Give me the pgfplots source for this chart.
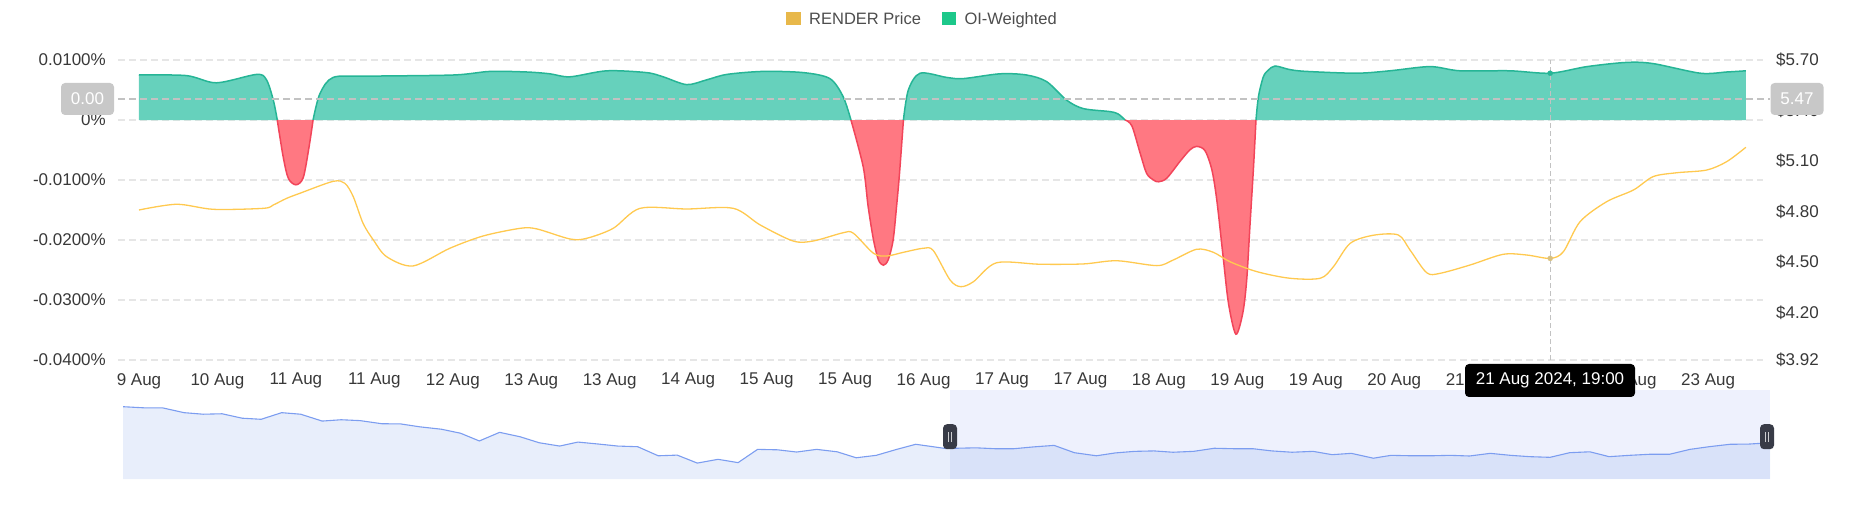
\documentclass[border=0pt]{standalone}
\usepackage{fontspec}
\setmainfont{Liberation Sans}
\usepackage{pgfplots}
\pgfplotsset{compat=1.18}
\usepackage{pgfplotstable}

\definecolor{oifill}{HTML}{66D1BC}
\definecolor{oiline}{HTML}{26B596}
\definecolor{negfill}{HTML}{FF7882}
\definecolor{negline}{HTML}{F2455A}
\definecolor{priceline}{HTML}{FFC94F}
\definecolor{gridc}{HTML}{E6E6E6}
\definecolor{ticktext}{HTML}{383838}
\definecolor{legtext}{HTML}{4D4D4D}
\definecolor{navline}{HTML}{7C9DF0}
\definecolor{navfill}{HTML}{E8EEFB}
\definecolor{navsel}{HTML}{7896F0}
\definecolor{handlec}{HTML}{383B47}
\definecolor{boxgray}{HTML}{C8C8C8}
\definecolor{crossc}{HTML}{C2C2C2}
\definecolor{leggold}{HTML}{E8B84A}
\definecolor{leggreen}{HTML}{1DC88A}
\definecolor{pricedot}{HTML}{D8C080}

% OI-Weighted funding rate (%), hours since 9 Aug 00:00
\pgfplotstableread{
h v
16.0 0.0075
25.7 0.0074
31.8 0.0062
40.0 0.0076
42.0 0.0067
43.4 0.0033
44.2 0
}\gA
\pgfplotstableread{
h v
44.2 0
45.4 -0.0061
46.45 -0.0097
48.0 -0.0108
49.5 -0.0096
50.7 -0.0044
51.5 0
}\rA
\pgfplotstableread{
h v
51.5 0
52.9 0.0044
55.6 0.0071
62.4 0.0073
80.1 0.0075
87.6 0.0081
95.1 0.0080
99.8 0.0077
103.9 0.0072
111.4 0.0082
119.5 0.0079
122.9 0.0072
127.7 0.0059
131.8 0.0067
135.9 0.0076
143.3 0.0081
151.5 0.0079
156.9 0.0069
159.6 0.0039
161.2 0
}\gB
\pgfplotstableread{
h v
161.2 0
163.7 -0.0078
164.7 -0.0144
165.8 -0.0200
166.8 -0.0233
167.8 -0.0242
168.8 -0.0233
169.8 -0.0200
170.5 -0.0144
171.1 -0.0089
171.9 0
}\rB
\pgfplotstableread{
h v
171.9 0
172.9 0.0050
175.3 0.0078
180.7 0.0071
184.1 0.0069
191.6 0.0077
197.0 0.0075
201.1 0.0064
205.2 0.0033
208.6 0.0019
214.0 0.0014
215.7 0.0010
217.1 0
}\gC
\pgfplotstableread{
h v
217.1 0
218.5 -0.0010
220.2 -0.0056
221.5 -0.0089
222.9 -0.0100
223.9 -0.0103
225.6 -0.0097
228.3 -0.0069
230.3 -0.0050
231.7 -0.0044
233.4 -0.0051
234.8 -0.0083
235.8 -0.0133
237.1 -0.0228
238.2 -0.0306
239.7 -0.0357
241.1 -0.0322
241.9 -0.0267
242.6 -0.0172
243.3 -0.0078
243.8 0
}\rC
\pgfplotstableread{
h v
243.8 0
244.3 0.0039
245.3 0.0072
246.3 0.0083
247.7 0.0090
250.7 0.0084
254.1 0.0081
264.3 0.0078
271.1 0.0082
279.3 0.0089
285.4 0.0082
295.6 0.0082
303.8 0.0078
311.3 0.0089
319.4 0.0096
324.8 0.0094
334.4 0.0078
339.8 0.0080
343.7 0.0082
}\gD

% RENDER price (USD)
\pgfplotstableread{
h p
16.0 4.810
23.7 4.844
31.2 4.814
41.4 4.820
43.4 4.840
46.1 4.879
48.8 4.909
55.6 4.980
58.0 4.968
59.7 4.889
61.7 4.731
63.8 4.632
66.5 4.533
71.9 4.478
79.4 4.583
86.2 4.656
93.7 4.701
97.1 4.698
103.9 4.638
107.3 4.642
112.7 4.701
118.2 4.820
127.7 4.816
137.2 4.820
142.7 4.721
149.4 4.626
153.5 4.626
159.6 4.675
161.7 4.672
165.8 4.553
168.5 4.537
171.9 4.559
176.0 4.583
178.0 4.569
181.4 4.395
183.6 4.355
186.2 4.385
190.9 4.497
199.8 4.488
208.6 4.490
215.4 4.509
223.6 4.480
226.9 4.513
231.7 4.577
235.1 4.559
238.5 4.503
244.0 4.444
250.7 4.405
256.9 4.405
259.6 4.474
263.0 4.612
267.7 4.660
272.8 4.662
275.2 4.573
278.6 4.438
281.3 4.434
287.5 4.484
294.2 4.547
299.0 4.543
303.8 4.523
306.5 4.563
309.9 4.741
315.3 4.859
320.8 4.929
324.8 5.008
329.6 5.031
335.7 5.047
339.8 5.097
343.7 5.182
}\price

% navigator price history
\pgfplotstableread{
h p
-314.5 6.81
-306.3 6.76
-298.8 6.76
-290.1 6.54
-282.5 6.47
-274.9 6.49
-266.9 6.29
-259.3 6.24
-251.1 6.54
-243.5 6.47
-234.9 6.16
-227.3 6.22
-219.7 6.18
-211.1 6.04
-203.5 6.03
-195.9 5.90
-187.2 5.79
-179.6 5.61
-172.1 5.26
-164.0 5.65
-155.8 5.45
-148.2 5.18
-140.0 5.03
-132.7 5.21
-124.4 5.12
-116.8 5.03
-108.8 5.00
-100.6 4.59
-93.0 4.62
-85.0 4.26
-76.7 4.43
-68.7 4.28
-60.9 4.88
-52.9 4.86
-45.3 4.76
-37.3 4.88
-29.1 4.77
-21.5 4.50
-13.5 4.61
-5.3 4.88
2.3 5.11
14.2 4.92
26.3 4.95
33.9 4.91
41.6 4.91
49.2 4.99
57.6 5.06
65.7 4.73
74.5 4.59
82.1 4.72
89.8 4.79
97.5 4.81
105.1 4.75
113.3 4.79
121.6 4.93
129.3 4.91
137.0 4.91
144.6 4.81
152.7 4.75
161.1 4.79
168.7 4.64
176.4 4.70
185.2 4.48
192.2 4.61
200.5 4.59
208.2 4.59
215.9 4.61
223.6 4.58
231.9 4.70
240.0 4.61
247.7 4.55
255.8 4.52
263.6 4.73
271.7 4.77
279.4 4.55
287.5 4.61
295.9 4.66
303.6 4.66
311.7 4.88
319.3 5.00
327.7 5.11
335.3 5.12
343.7 5.18
}\nav

\begin{document}
\begin{tikzpicture}
\path[use as bounding box] (0pt,0pt) rectangle (1852pt,525pt);

% ---------- main axis: OI-weighted funding rate ----------
\begin{axis}[
  at={(118pt,165pt)}, anchor=south west, scale only axis,
  width=1645pt, height=300pt,
  xmin=11.72, xmax=347.2, ymin=-0.04, ymax=0.01,
  clip=false,
  axis line style={draw=none}, major tick length=0pt,
  xtick={16,32,...,336},
  xticklabels={9 Aug,10 Aug,11 Aug,11 Aug,12 Aug,13 Aug,13 Aug,14 Aug,15 Aug,15 Aug,16 Aug,17 Aug,17 Aug,18 Aug,19 Aug,19 Aug,20 Aug,21 Aug,21 Aug,22 Aug,23 Aug},
  ytick={-0.04,-0.03,-0.02,-0.01,0,0.01},
  yticklabels={-0.0400\%,-0.0300\%,-0.0200\%,-0.0100\%,0\%,0.0100\%},
  scaled y ticks=false, scaled x ticks=false,
  ymajorgrids,
  major grid style={gridc, line width=1.2pt, dash pattern=on 7pt off 4pt},
  tick label style={font=\fontsize{17pt}{20pt}\selectfont, text=ticktext, inner sep=0pt},
  xticklabel style={anchor=north, yshift=-13pt},
  yticklabel style={anchor=east, xshift=-12pt},
  no markers,
]
\addplot[fill=oifill, draw=none, smooth] table[x=h,y=v]{\gA} \closedcycle;
\addplot[fill=oifill, draw=none, smooth] table[x=h,y=v]{\gB} \closedcycle;
\addplot[fill=oifill, draw=none, smooth] table[x=h,y=v]{\gC} \closedcycle;
\addplot[fill=oifill, draw=none, smooth] table[x=h,y=v]{\gD} \closedcycle;
\addplot[fill=negfill, draw=none, smooth] table[x=h,y=v]{\rA} \closedcycle;
\addplot[fill=negfill, draw=none, smooth] table[x=h,y=v]{\rB} \closedcycle;
\addplot[fill=negfill, draw=none, smooth] table[x=h,y=v]{\rC} \closedcycle;
\addplot[oiline, line width=1.5pt, smooth] table[x=h,y=v]{\gA};
\addplot[oiline, line width=1.5pt, smooth] table[x=h,y=v]{\gB};
\addplot[oiline, line width=1.5pt, smooth] table[x=h,y=v]{\gC};
\addplot[oiline, line width=1.5pt, smooth] table[x=h,y=v]{\gD};
\addplot[negline, line width=1.5pt, smooth] table[x=h,y=v]{\rA};
\addplot[negline, line width=1.5pt, smooth] table[x=h,y=v]{\rB};
\addplot[negline, line width=1.5pt, smooth] table[x=h,y=v]{\rC};
% crosshair
\draw[crossc, line width=1.5pt, dash pattern=on 7pt off 4pt] (axis cs:11.72,0.003533) -- (axis cs:348.6,0.003533);
\draw[crossc, line width=1pt, dash pattern=on 5pt off 3pt] (axis cs:303.8,-0.04) -- (axis cs:303.8,0.01);
\addplot[only marks, mark=*, mark size=2.5pt, mark options={fill=oiline, draw=oiline}] coordinates {(303.8,0.0078)};
\end{axis}

% ---------- right axis: RENDER price ----------
\begin{axis}[
  at={(118pt,165pt)}, anchor=south west, scale only axis,
  width=1645pt, height=300pt,
  xmin=11.72, xmax=347.2, ymin=3.92, ymax=5.70,
  axis line style={draw=none}, major tick length=0pt,
  xtick=\empty,
  yticklabel pos=right,
  ytick={3.92,4.20,4.50,4.80,5.10,5.40,5.70},
  yticklabels={\$3.92,\$4.20,\$4.50,\$4.80,\$5.10,\$5.40,\$5.70},
  tick label style={font=\fontsize{17pt}{20pt}\selectfont, text=ticktext, inner sep=0pt},
  yticklabel style={anchor=west, xshift=13pt},
  no markers,
]
\addplot[priceline, line width=1.3pt, smooth] table[x=h,y=p]{\price};
\addplot[only marks, mark=*, mark size=2.5pt, mark options={fill=pricedot, draw=pricedot}] coordinates {(303.8,4.523)};
\end{axis}

% ---------- navigator ----------
\begin{axis}[
  at={(123pt,46pt)}, anchor=south west, scale only axis,
  width=1647pt, height=89pt,
  xmin=-314.5, xmax=343.7, ymin=3.54, ymax=7.565,
  hide axis, no markers,
]
\addplot[fill=navfill, draw=none] table[x=h,y=p]{\nav} \closedcycle;
\fill[navsel, opacity=0.13] (axis cs:16,3.54) rectangle (axis cs:343.7,7.565);
\addplot[navline, line width=1.1pt] table[x=h,y=p]{\nav};
\end{axis}

% navigator handles
\foreach \hx in {950,1767}{
  \fill[handlec, rounded corners=4pt] (\hx pt-7pt,75.8pt) rectangle (\hx pt+7pt,100.8pt);
  \draw[white!75!handlec, line width=0.8pt] (\hx pt-1.6pt,83pt) -- (\hx pt-1.6pt,93.5pt);
  \draw[white!75!handlec, line width=0.8pt] (\hx pt+1.6pt,83pt) -- (\hx pt+1.6pt,93.5pt);
}

% crosshair value boxes
\node[fill=boxgray, rounded corners=4pt, text=white, minimum width=53pt, minimum height=32pt, inner sep=0pt, font=\fontsize{17pt}{20pt}\selectfont] at (87.5pt,426pt) {0.00};
\node[fill=boxgray, rounded corners=4pt, text=white, minimum width=53pt, minimum height=32pt, inner sep=0pt, font=\fontsize{17pt}{20pt}\selectfont] at (1797pt,426pt) {5.47};

% tooltip
\node[fill=black, rounded corners=4pt, text=white, minimum width=170pt, minimum height=33pt, inner sep=0pt, font=\fontsize{17pt}{20pt}\selectfont] at (1550pt,144.5pt) {21 Aug 2024, 19:00};

% legend
\fill[leggold] (786pt,500pt) rectangle (800.7pt,513.3pt);
\node[anchor=base west, inner sep=0pt, text=legtext, font=\fontsize{16.5pt}{19pt}\selectfont] at (809pt,500.7pt) {RENDER Price};
\fill[leggreen] (941.7pt,500pt) rectangle (956pt,513.3pt);
\node[anchor=base west, inner sep=0pt, text=legtext, font=\fontsize{16.5pt}{19pt}\selectfont] at (964.3pt,500.7pt) {OI-Weighted};
\end{tikzpicture}
\end{document}
